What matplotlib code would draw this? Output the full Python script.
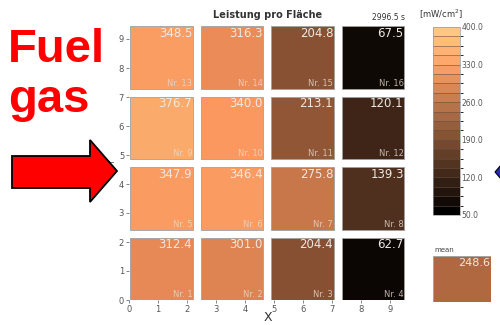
import numpy as np
import matplotlib
matplotlib.use("Agg")
import matplotlib.pyplot as plt
from matplotlib.patches import Rectangle, Polygon
from matplotlib.colors import BoundaryNorm, Normalize
from matplotlib.colorbar import ColorbarBase

# ---------- data (power per area, mW/cm^2), row 0 = bottom ----------
row_vals = [
    [312.4, 301.0, 204.4, 62.7],    # Nr. 1-4
    [347.9, 346.4, 275.8, 139.3],   # Nr. 5-8
    [376.7, 340.0, 213.1, 120.1],   # Nr. 9-12
    [348.5, 316.3, 204.8, 67.5],    # Nr. 13-16
]
vmin, vmax = 50.0, 400.0
cbar_ticks = [50.0, 120.0, 190.0, 260.0, 330.0, 400.0]
n_levels = 20
x_ticks = list(range(10))
y_ticks = list(range(10))
time_label = "2996.5 s"

vals = np.array(row_vals)
mean_val = vals.mean()

W, H = 500, 325
fig = plt.figure(figsize=(W / 100, H / 100), dpi=100)
fig.patch.set_facecolor("white")

def fx(px):
    return px / W

def fy(py):
    return 1 - py / H

levels = np.linspace(vmin, vmax, n_levels + 1)
cmap_d = plt.get_cmap("copper", n_levels)
bnorm = BoundaryNorm(levels, n_levels)
cnorm = Normalize(vmin, vmax)
shade = np.array([0.98, 0.92, 0.9])   # squares look a touch darker than the bar

def cell_color(v):
    return tuple(np.clip(np.array(plt.get_cmap("copper")(cnorm(v))[:3]) * shade, 0, 1))

# ---------- main grid ----------
ax = fig.add_axes([fx(129), fy(300), fx(406) - fx(129), fy(24.5) - fy(300)])
pitch, size, x0 = 2.43, 2.15, 0.05
for r in range(4):
    for c in range(4):
        v = vals[r, c]
        xl = x0 + c * pitch
        yb = r * pitch
        ax.add_patch(Rectangle((xl, yb), size, size, facecolor=cell_color(v),
                               edgecolor="#a0a0a0", lw=0.6))
        ax.text(xl + size - 0.02, yb + size - 0.02, f"{v:.1f}", ha="right", va="top",
                fontsize=8.5, color="#eee8e2")
        ax.text(xl + size - 0.02, yb + 0.03, f"Nr. {r * 4 + c + 1}", ha="right", va="bottom",
                fontsize=6, color="#e6dcd2", alpha=0.8)
ax.set_xlim(0, 9.55)
ax.set_ylim(0, 9.5)
ax.set_xticks(x_ticks)
ax.set_yticks(y_ticks)
ax.tick_params(labelsize=6, colors="#555555", length=2, width=0.5, pad=1.5)
for s in ax.spines.values():
    s.set_visible(False)
ax.set_xlabel("X", fontsize=9, color="#333333", labelpad=-2)
ax.set_ylabel("Y", fontsize=6, color="#555555", labelpad=1)
ax.set_title("Leistung pro Fläche", fontsize=7, fontweight="bold", color="#333333", pad=5)
fig.text(fx(405), fy(20), time_label, ha="right", va="baseline", fontsize=5.5, color="#333333")

# ---------- colorbar ----------
cax = fig.add_axes([fx(433), fy(215), fx(460) - fx(433), fy(27) - fy(215)])
cb = ColorbarBase(cax, cmap=cmap_d, norm=bnorm, boundaries=levels, ticks=cbar_ticks,
                  drawedges=True)
cb.dividers.set_color("#6a5040")
cb.dividers.set_linewidth(0.4)
cb.outline.set_edgecolor("#999999")
cb.outline.set_linewidth(0.5)
cb.set_ticklabels([f"{t:.1f}" for t in cbar_ticks])
cax.tick_params(labelsize=5.5, colors="#555555", length=0, pad=1)
fig.text(fx(441), fy(14), "[mW/cm$^2$]", ha="center", va="center", fontsize=6, color="#333333")

# ---------- mean box ----------
max_ = fig.add_axes([fx(433), fy(302), fx(491) - fx(433), fy(256) - fy(302)])
max_.add_patch(Rectangle((0, 0), 1, 1, facecolor=cell_color(mean_val),
                         edgecolor="#a0a0a0", lw=0.6))
max_.text(0.98, 0.96, f"{mean_val:.1f}", ha="right", va="top", fontsize=8, color="#eee8e2",
          transform=max_.transAxes)
max_.set_xlim(0, 1); max_.set_ylim(0, 1)
max_.axis("off")
fig.text(fx(434), fy(252), "mean", ha="left", va="baseline", fontsize=5, color="#444444")

# ---------- annotations: Fuel gas + arrows ----------
fig.text(fx(8), fy(62), "Fuel", ha="left", va="baseline", fontsize=34, fontweight="bold",
         color="#ff0000", family="Liberation Sans")
fig.text(fx(8), fy(112), "gas", ha="left", va="baseline", fontsize=34, fontweight="bold",
         color="#ff0000", family="Liberation Sans")
arrow_px = [(12, 156), (90, 156), (90, 140), (117, 171), (90, 202), (90, 188), (12, 188)]
fig.patches.append(Polygon([(fx(a), fy(b)) for a, b in arrow_px], closed=True,
                           transform=fig.transFigure, facecolor="#ff0000",
                           edgecolor="black", lw=1.3, zorder=10))
blue_px = [(495, 172), (501, 165), (501, 179)]
fig.patches.append(Polygon([(fx(a), fy(b)) for a, b in blue_px], closed=True,
                           transform=fig.transFigure, facecolor="#2a2ab8",
                           edgecolor="black", lw=0.8, zorder=10))

fig.savefig("out.png", dpi=100)
